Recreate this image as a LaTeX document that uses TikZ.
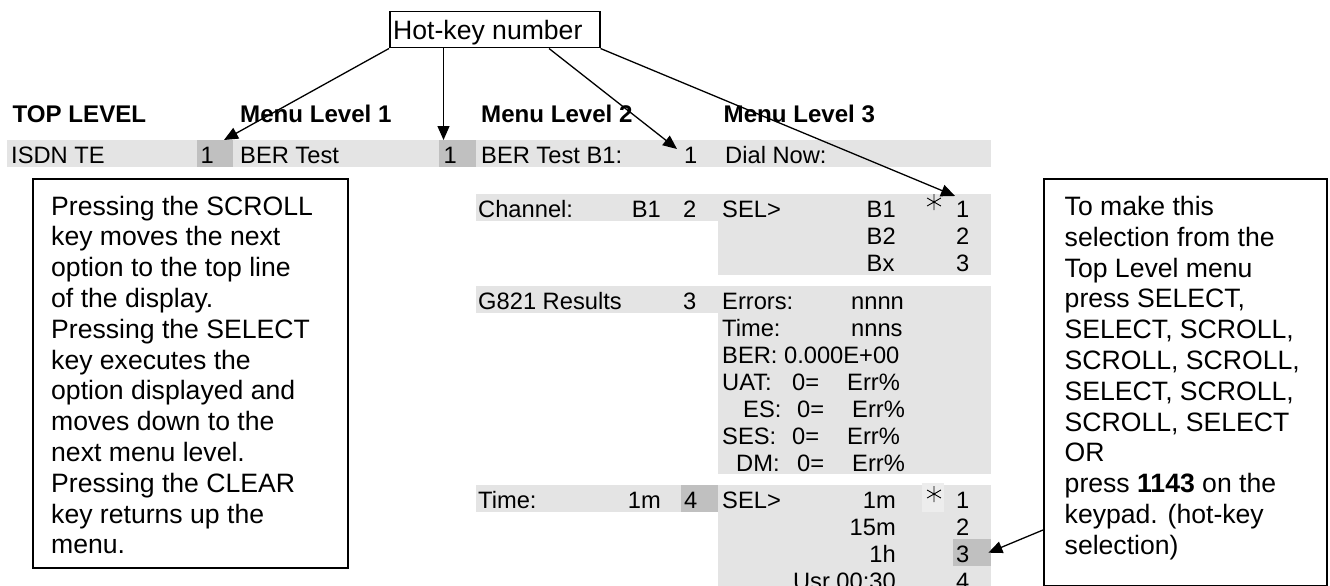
\documentclass[tikz,border=0pt]{standalone}
\usepackage{fontspec}
\setmainfont{Liberation Sans}
\usetikzlibrary{arrows.meta,calc}

\definecolor{bandgray}{HTML}{E4E4E4}
\definecolor{keygray}{HTML}{C0C0C0}
\definecolor{patchgray}{HTML}{EDEDED}

\tikzset{
  menu/.style={font=\fontsize{23.7}{27}\selectfont, inner sep=0pt, anchor=base west},
  menuR/.style={menu, anchor=base east},
  head/.style={inner sep=0pt, anchor=base west, font=\fontsize{24.1}{27}\selectfont\bfseries},
  band/.style={fill=bandgray, draw=none},
  keycell/.style={fill=keygray, draw=none, inner sep=0pt, anchor=north west,
                  minimum height=27pt},
  % multi-line notes: the base anchor sits on the last line
  note/.style={font=\fontsize{26.6}{30.8}\selectfont, inner sep=0pt, anchor=base west, align=left},
  frame/.style={draw, line width=1.5pt, inner sep=0pt, anchor=north west},
  pointer/.style={line width=1.3pt, -{Triangle[length=14pt,width=12pt]}},
  asterisk/.pic={\draw[line width=0.9pt] (0,-8)--(0,8) (-6.9,-4)--(6.9,4) (-6.9,4)--(6.9,-4);}
}

\begin{document}
\begin{tikzpicture}[x=1pt,y=-1pt]
\useasboundingbox (0,0) rectangle (1330,586);

% ---------- shaded menu rows ----------
\fill[band] (7,140) rectangle (991,167);          % top line
\fill[band] (476,194) rectangle (718,221);        % Channel
\fill[band] (718,194) rectangle (991,275);
\fill[band] (476,286) rectangle (718,313);        % G821 Results
\fill[band] (718,286) rectangle (991,474);
\fill[band] (476,485) rectangle (718,512);        % Time
\fill[band] (718,485) rectangle (991,590);
\fill[patchgray] (922,483) rectangle (944,512);

% hot-key cells
\node[keycell, minimum width=36pt] (k1) at (197,140) {};
\node[keycell, minimum width=37pt] (k2) at (439,140) {};
\node[keycell, minimum width=37pt] (k3) at (681,485) {};
\node[keycell, minimum width=38pt] (k4) at (953,539) {};

% ---------- column headings ----------
\node[head] (h0) at (12.5,122) {TOP LEVEL};
\node[head] (h1) at (240,122) {Menu Level 1};
\node[head] (h2) at (481,122) {Menu Level 2};
\node[head] (h3) at (723.5,122) {Menu Level 3};

% ---------- top line ----------
\node[menu] (isdn) at (11,163.5) {ISDN TE};
\node[menu] (n0) at (200.5,163.5) {1};
\node[menu] (bert) at (240,163.5) {BER Test};
\node[menu] (n1) at (443.5,163.5) {1};
\node[menu] (bertb) at (481,163.5) {BER Test B1:};
\node[menu] (n2) at (684,163.5) {1};
\node[menu] (dial) at (725,163.5) {Dial Now:};

% ---------- Channel ----------
\node[menu] (chan) at (478,217.5) {Channel:};
\node[menuR] (chanv) at (661,217.5) {B1};
\node[menu] (chann) at (683,217.5) {2};
\node[menu] (sel1) at (722,217.5) {SEL>};
\node[menu] (cb1) at (866.5,217.5) {B1};
\node[menu] (cb2) at (866.5,244.5) {B2};
\node[menu] (cbx) at (866.5,271.5) {Bx};
\pic at (934,202) {asterisk};
\node[menu] (c1) at (956,217.5) {1};
\node[menu] (c2) at (956,244.5) {2};
\node[menu] (c3) at (956,271.5) {3};

% ---------- G821 Results ----------
\node[menu] (g821) at (478,309.5) {G821 Results};
\node[menu] (g821n) at (683,309.5) {3};
\node[menu] (err) at (722,309.5) {Errors:};
\node[menu] (errv) at (851,309.5) {nnnn};
\node[menu] (tim) at (722,336.5) {Time:};
\node[menu] (timv) at (851,336.5) {nnns};
\node[menu] (ber) at (722,363.5) {BER: 0.000E+00};
\node[menu] (uat) at (722,390.5) {UAT:};
\node[menu] (uatz) at (792,390.5) {0=};
\node[menu] (uate) at (847,390.5) {Err\%};
\node[menu] (es) at (743,417.5) {ES:};
\node[menu] (esz) at (797,417.5) {0=};
\node[menu] (ese) at (852,417.5) {Err\%};
\node[menu] (ses) at (722,444.5) {SES:};
\node[menu] (sesz) at (792,444.5) {0=};
\node[menu] (sese) at (847,444.5) {Err\%};
\node[menu] (dm) at (736,471.5) {DM:};
\node[menu] (dmz) at (797,471.5) {0=};
\node[menu] (dme) at (852,471.5) {Err\%};

% ---------- Time ----------
\node[menu] (time) at (478,508.5) {Time:};
\node[menuR] (timev) at (661,508.5) {1m};
\node[menu] (timen) at (684,508.5) {4};
\node[menu] (sel2) at (722,508.5) {SEL>};
\node[menuR] (t1) at (896,508.5) {1m};
\node[menuR] (t2) at (896,535.5) {15m};
\node[menuR] (t3) at (896,562.5) {1h};
\node[menuR] (t4) at (896,589.5) {Usr 00:30};
\pic at (934,494) {asterisk};
\node[menu] (d1) at (956,508.5) {1};
\node[menu] (d2) at (956,535.5) {2};
\node[menu] (d3) at (956,562.5) {3};
\node[menu] (d4) at (956,589.5) {4};

% ---------- hot-key label ----------
\node[frame, minimum width=210pt, minimum height=36pt] (hotkey) at (389,11) {};
\node[inner sep=0pt, anchor=base west, font=\fontsize{26.6}{30.8}\selectfont] (hotkeytxt) at (393,39.5) {Hot-key number};

% ---------- explanation boxes ----------
\node[frame, minimum width=315pt, minimum height=389pt] (lbox) at (32,178) {};
\node[note] (ltxt) at (51,553.8) {Pressing the SCROLL\\key moves the next\\option to the top line\\of the display.\\Pressing the SELECT\\key executes the\\option displayed and\\moves down to the\\next menu level.\\Pressing the CLEAR\\key returns up the\\menu.};

\node[frame, minimum width=283pt, minimum height=407pt] (rbox) at (1043,178) {};
\node[note] (rtxt) at (1064.5,554.3) {To make this\\selection from the\\Top Level menu\\press SELECT,\\SELECT, SCROLL,\\SCROLL, SCROLL,\\SELECT, SCROLL,\\SCROLL, SELECT\\OR\\press \textbf{1143} on the\\keypad. (hot-key\\selection)};

% ---------- pointers ----------
\draw[pointer] (hotkey.south west) -- ($(k1.north west)+(27,0)$);
\draw[pointer] ($(hotkey.south west)+(54.5,0)$) -- ($(k2.north west)+(4.5,0)$);
\draw[pointer] ($(hotkey.south west)+(160,0)$) -- ($(n2.north west)+(-7,2)$);
\draw[pointer] (hotkey.south east) -- ($(c1.north west)+(-1,-5)$);
\draw[pointer] ($(rbox.north west)+(0,352)$) -- ($(k4.east)+(-3,0)$);
\end{tikzpicture}
\end{document}
